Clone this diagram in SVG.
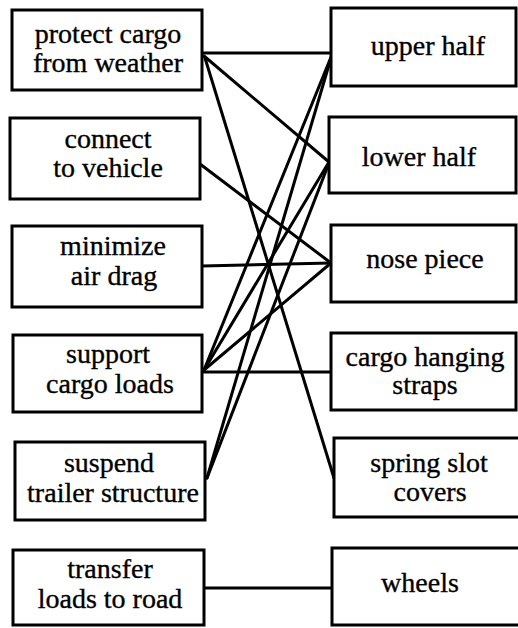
<svg xmlns="http://www.w3.org/2000/svg" width="518" height="628" viewBox="0 0 518 628">
  <style>
    .box { fill: #fff; stroke: #000; stroke-width: 3; }
    .lbl { font-family: 'Liberation Serif', 'DejaVu Serif', 'Times New Roman', Times, serif; font-size: 28px; fill: #000; text-anchor: middle; stroke: #000; stroke-width: 0.35; }
    .link { stroke: #000; stroke-width: 3; fill: none; stroke-linecap: round; }
  </style>
  <rect width="518" height="628" fill="#fff"/>

  <!-- connectors: functions (left) to parts (right) -->
  <g id="connectors">
    <line class="link" x1="203" y1="53" x2="331" y2="53"/>
    <line class="link" x1="204" y1="56" x2="329" y2="162"/>
    <line class="link" x1="205" y1="58" x2="334" y2="478"/>
    <line class="link" x1="200" y1="164" x2="331" y2="263"/>
    <line class="link" x1="202" y1="266" x2="331" y2="263"/>
    <line class="link" x1="204" y1="370" x2="331" y2="57"/>
    <line class="link" x1="204" y1="370" x2="329" y2="162"/>
    <line class="link" x1="204" y1="370" x2="331" y2="263"/>
    <line class="link" x1="203" y1="372" x2="331" y2="372"/>
    <line class="link" x1="207" y1="478" x2="331" y2="58"/>
    <line class="link" x1="207" y1="478" x2="329" y2="163"/>
    <line class="link" x1="204" y1="588" x2="332" y2="588"/>
  </g>

  <!-- functions -->
  <g id="f-protect">
    <rect class="box" x="12" y="10" width="190" height="80"/>
    <text class="lbl" x="108" y="43">protect cargo</text>
    <text class="lbl" x="108" y="72">from weather</text>
  </g>
  <g id="f-connect">
    <rect class="box" x="10" y="118" width="190" height="81"/>
    <text class="lbl" x="108" y="148">connect</text>
    <text class="lbl" x="108" y="177">to vehicle</text>
  </g>
  <g id="f-minimize">
    <rect class="box" x="12" y="226" width="190" height="81"/>
    <text class="lbl" x="113" y="255">minimize</text>
    <text class="lbl" x="114" y="285">air drag</text>
  </g>
  <g id="f-support">
    <rect class="box" x="13" y="335" width="189" height="77"/>
    <text class="lbl" x="108" y="363">support</text>
    <text class="lbl" x="110" y="393">cargo loads</text>
  </g>
  <g id="f-suspend">
    <rect class="box" x="15" y="442" width="190" height="78"/>
    <text class="lbl" x="109" y="472">suspend</text>
    <text class="lbl" x="113" y="502">trailer structure</text>
  </g>
  <g id="f-transfer">
    <rect class="box" x="13" y="550" width="191" height="75"/>
    <text class="lbl" x="110" y="578">transfer</text>
    <text class="lbl" x="110" y="608">loads to road</text>
  </g>

  <!-- parts -->
  <g id="p-upper">
    <rect class="box" x="331" y="8" width="185" height="78"/>
    <text class="lbl" x="428" y="55">upper half</text>
  </g>
  <g id="p-lower">
    <rect class="box" x="329" y="117" width="187" height="76"/>
    <text class="lbl" x="419" y="166">lower half</text>
  </g>
  <g id="p-nose">
    <rect class="box" x="331" y="225" width="185" height="77"/>
    <text class="lbl" x="425" y="268">nose piece</text>
  </g>
  <g id="p-straps">
    <rect class="box" x="331" y="333" width="185" height="77"/>
    <text class="lbl" x="425" y="366">cargo hanging</text>
    <text class="lbl" x="425" y="394">straps</text>
  </g>
  <g id="p-covers">
    <rect class="box" x="334" y="438" width="188" height="79"/>
    <text class="lbl" x="429" y="472">spring slot</text>
    <text class="lbl" x="430" y="501">covers</text>
  </g>
  <g id="p-wheels">
    <rect class="box" x="332" y="548" width="190" height="77"/>
    <text class="lbl" x="420" y="592">wheels</text>
  </g>
</svg>
